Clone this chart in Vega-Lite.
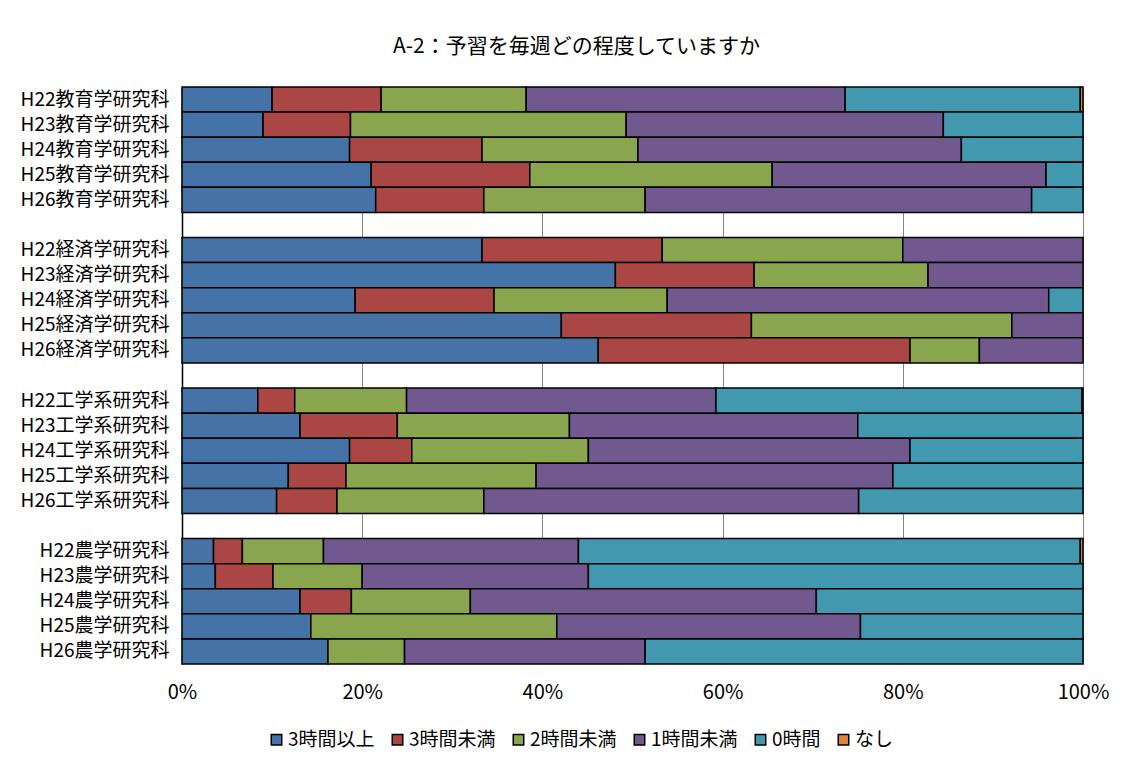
{
  "$schema": "https://vega.github.io/schema/vega-lite/v6.json",
  "width": 901,
  "height": 577,
  "autosize": {"type": "none"},
  "padding": {"left": 182, "top": 87, "right": 44, "bottom": 103},
  "background": "white",
  "title": {"text": "A-2：予習を毎週どの程度していますか", "fontSize": 21, "fontWeight": "normal", "color": "black", "anchor": "middle", "frame": "bounds", "offset": 29, "dx": 12},
  "data": {"values": [
    {"g": "H22教育学研究科", "3時間以上": 10.0, "3時間未満": 12.1, "2時間未満": 16.1, "1時間未満": 35.4, "0時間": 26.1, "なし": 0.3},
    {"g": "H23教育学研究科", "3時間以上": 9.0, "3時間未満": 9.7, "2時間未満": 30.6, "1時間未満": 35.2, "0時間": 15.5},
    {"g": "H24教育学研究科", "3時間以上": 18.6, "3時間未満": 14.7, "2時間未満": 17.3, "1時間未満": 35.9, "0時間": 13.5},
    {"g": "H25教育学研究科", "3時間以上": 21.0, "3時間未満": 17.6, "2時間未満": 26.9, "1時間未満": 30.4, "0時間": 4.1},
    {"g": "H26教育学研究科", "3時間以上": 21.5, "3時間未満": 12.0, "2時間未満": 17.9, "1時間未満": 42.9, "0時間": 5.7},
    {"g": "H22経済学研究科", "3時間以上": 33.3, "3時間未満": 20.0, "2時間未満": 26.7, "1時間未満": 20.0},
    {"g": "H23経済学研究科", "3時間以上": 48.1, "3時間未満": 15.4, "2時間未満": 19.3, "1時間未満": 17.2},
    {"g": "H24経済学研究科", "3時間以上": 19.2, "3時間未満": 15.4, "2時間未満": 19.2, "1時間未満": 42.3, "0時間": 3.8},
    {"g": "H25経済学研究科", "3時間以上": 42.1, "3時間未満": 21.1, "2時間未満": 28.9, "1時間未満": 7.9},
    {"g": "H26経済学研究科", "3時間以上": 46.2, "3時間未満": 34.6, "2時間未満": 7.7, "1時間未満": 11.5},
    {"g": "H22工学系研究科", "3時間以上": 8.4, "3時間未満": 4.1, "2時間未満": 12.4, "1時間未満": 34.3, "0時間": 40.6, "なし": 0.1},
    {"g": "H23工学系研究科", "3時間以上": 13.1, "3時間未満": 10.8, "2時間未満": 19.1, "1時間未満": 32.0, "0時間": 25.0},
    {"g": "H24工学系研究科", "3時間以上": 18.6, "3時間未満": 6.9, "2時間未満": 19.6, "1時間未満": 35.7, "0時間": 19.2},
    {"g": "H25工学系研究科", "3時間以上": 11.8, "3時間未満": 6.4, "2時間未満": 21.1, "1時間未満": 39.6, "0時間": 21.1},
    {"g": "H26工学系研究科", "3時間以上": 10.5, "3時間未満": 6.7, "2時間未満": 16.3, "1時間未満": 41.6, "0時間": 24.9},
    {"g": "H22農学研究科", "3時間以上": 3.5, "3時間未満": 3.2, "2時間未満": 9.0, "1時間未満": 28.3, "0時間": 55.7, "なし": 0.3},
    {"g": "H23農学研究科", "3時間以上": 3.7, "3時間未満": 6.4, "2時間未満": 9.9, "1時間未満": 25.1, "0時間": 54.9},
    {"g": "H24農学研究科", "3時間以上": 13.1, "3時間未満": 5.7, "2時間未満": 13.2, "1時間未満": 38.4, "0時間": 29.6},
    {"g": "H25農学研究科", "3時間以上": 14.3, "2時間未満": 27.3, "1時間未満": 33.7, "0時間": 24.7},
    {"g": "H26農学研究科", "3時間以上": 16.2, "2時間未満": 8.5, "1時間未満": 26.7, "0時間": 48.6}
  ]},
  "transform": [
    {"fold": ["3時間以上", "3時間未満", "2時間未満", "1時間未満", "0時間", "なし"], "as": ["c", "v"]},
    {"filter": "isValid(datum.v) && datum.v > 0"},
    {"calculate": "indexof(['3時間以上','3時間未満','2時間未満','1時間未満','0時間','なし'], datum.c)", "as": "k"}
  ],
  "mark": {"type": "bar", "stroke": "black", "strokeWidth": 1.5},
  "encoding": {
    "y": {
      "field": "g", "type": "nominal",
      "scale": {"domain": ["H22教育学研究科", "H23教育学研究科", "H24教育学研究科", "H25教育学研究科", "H26教育学研究科", " ", "H22経済学研究科", "H23経済学研究科", "H24経済学研究科", "H25経済学研究科", "H26経済学研究科", "  ", "H22工学系研究科", "H23工学系研究科", "H24工学系研究科", "H25工学系研究科", "H26工学系研究科", "   ", "H22農学研究科", "H23農学研究科", "H24農学研究科", "H25農学研究科", "H26農学研究科"], "paddingInner": 0, "paddingOuter": 0},
      "axis": {"title": null, "ticks": false, "labelFontSize": 19, "labelPadding": 13, "labelColor": "black", "domainColor": "black", "domainWidth": 1.5}
    },
    "x": {
      "field": "v", "type": "quantitative", "stack": "normalize",
      "scale": {"domain": [0, 1]},
      "axis": {"title": null, "format": "%", "values": [0, 0.2, 0.4, 0.6, 0.8, 1], "grid": true, "gridColor": "#868686", "gridWidth": 1, "ticks": false, "domain": false, "labelFlush": false, "labelFontSize": 20, "labelPadding": 18, "labelColor": "black"}
    },
    "color": {
      "field": "c", "type": "nominal",
      "scale": {"domain": ["3時間以上", "3時間未満", "2時間未満", "1時間未満", "0時間", "なし"], "range": ["#4572A7", "#AA4643", "#89A54E", "#71588F", "#4198AF", "#DB843D"]},
      "legend": {"title": null, "orient": "none", "legendX": 85, "legendY": 643, "direction": "horizontal", "symbolType": "square", "symbolSize": 110, "symbolStrokeColor": "black", "symbolStrokeWidth": 1.5, "labelFontSize": 19, "labelColor": "black", "labelOffset": 2, "columnPadding": 13}
    },
    "order": {"field": "k", "type": "quantitative"}
  },
  "config": {"font": "Noto Sans CJK JP", "view": {"stroke": null}}
}
